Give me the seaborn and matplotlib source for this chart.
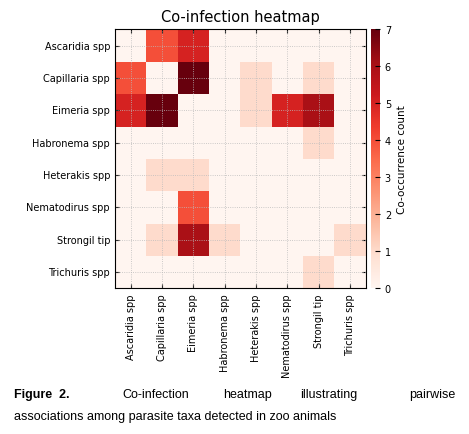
import numpy as np
import matplotlib
matplotlib.use("Agg")
import matplotlib.pyplot as plt
import seaborn as sns

taxa = ["Ascaridia spp", "Capillaria spp", "Eimeria spp", "Habronema spp",
        "Heterakis spp", "Nematodirus spp", "Strongil tip", "Trichuris spp"]

counts = np.array([
    [0, 4, 5, 0, 0, 0, 0, 0],
    [4, 0, 7, 0, 1, 0, 1, 0],
    [5, 7, 0, 0, 1, 5, 6, 0],
    [0, 0, 0, 0, 0, 0, 1, 0],
    [0, 1, 1, 0, 0, 0, 0, 0],
    [0, 0, 4, 0, 0, 0, 0, 0],
    [0, 1, 6, 1, 0, 0, 0, 1],
    [0, 0, 0, 0, 0, 0, 1, 0],
])

fig = plt.figure(figsize=(4.69, 4.35), dpi=100)
ax = fig.add_axes([0.245, 0.335, 0.535, 0.595])
cax = fig.add_axes([0.79, 0.335, 0.02, 0.595])

sns.heatmap(counts, ax=ax, cbar_ax=cax, cmap="Reds", vmin=0, vmax=7,
            xticklabels=taxa, yticklabels=taxa, square=False,
            cbar_kws={"label": "Co-occurrence count"})

centers = np.arange(len(taxa)) + 0.5
for c in centers:
    ax.axvline(c, color="#bbbbbb", linestyle=":", linewidth=0.6)
    ax.axhline(c, color="#bbbbbb", linestyle=":", linewidth=0.6)
for spine in ax.spines.values():
    spine.set_visible(True)
    spine.set_linewidth(0.8)

ax.set_title("Co-infection heatmap", fontsize=10.5)
ax.tick_params(axis="both", labelsize=7, direction="in", length=3,
               top=True, right=True)
plt.setp(ax.get_xticklabels(), rotation=90)
plt.setp(ax.get_yticklabels(), rotation=0)
cax.tick_params(labelsize=7, direction="in")
cax.yaxis.label.set_size(7.5)

# justified caption, first line spread across the width
cap_font = dict(fontsize=9, family="Liberation Sans")
fig.text(0.03, 0.085, "Figure  2.", fontweight="bold", **cap_font)
words = ["Co-infection", "heatmap", "illustrating", "pairwise"]
xs = [0.26, 0.475, 0.64, 0.97]
for w, x in zip(words, xs):
    fig.text(x, 0.085, w, ha="right" if w == "pairwise" else "left", **cap_font)
fig.text(0.03, 0.035, "associations among parasite taxa detected in zoo animals",
         **cap_font)

plt.savefig("out.png", dpi=100)
